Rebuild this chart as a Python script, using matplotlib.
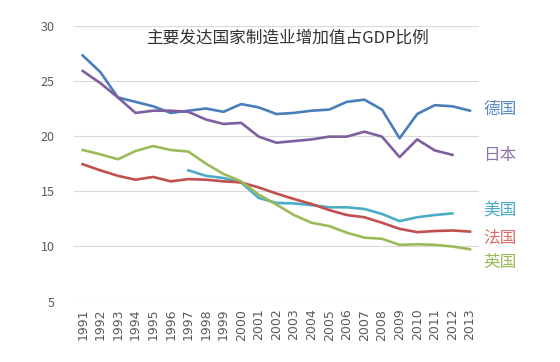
import matplotlib.pyplot as plt

plt.rcParams['font.family'] = ['Noto Sans CJK SC', 'DejaVu Sans']

years = [str(y) for y in range(1991, 2014)]

germany = [27.3, 25.8, 23.5, 23.1, 22.7, 22.1, 22.3, 22.5, 22.2, 22.9, 22.6, 22.0,
           22.1, 22.3, 22.4, 23.1, 23.3, 22.4, 19.8, 22.0, 22.8, 22.7, 22.3]
japan = [25.9, 24.8, 23.5, 22.1, 22.3, 22.3, 22.2, 21.5, 21.1, 21.2, 19.95, 19.4,
         19.55, 19.7, 19.95, 19.95, 20.4, 19.95, 18.1, 19.7, 18.7, 18.3]
usa = [16.9, 16.4, 16.2, 15.8, 14.4, 13.95, 13.9, 13.75, 13.55, 13.55,
       13.4, 12.95, 12.3, 12.65, 12.85, 13.0]
france = [17.45, 16.9, 16.4, 16.05, 16.3, 15.9, 16.1, 16.05, 15.9, 15.8, 15.35, 14.8,
          14.3, 13.85, 13.3, 12.85, 12.65, 12.15, 11.6, 11.3, 11.4, 11.45, 11.35]
uk = [18.74, 18.35, 17.9, 18.65, 19.1, 18.74, 18.6, 17.5, 16.57, 15.9, 14.7, 13.8,
      12.85, 12.15, 11.85, 11.25, 10.8, 10.7, 10.15, 10.2, 10.15, 10.0, 9.75]

fig = plt.figure(figsize=(5.6, 3.62), dpi=100)
ax = fig.add_axes([0.132, 0.1666, 0.723, 0.7624])

x = list(range(len(years)))
ax.plot(x[:len(germany)], germany, color='#4a7ebb', lw=1.9)
ax.plot(x[:len(japan)], japan, color='#7d5fa0', lw=1.9)
ax.plot(x[6:6 + len(usa)], usa, color='#4bacc6', lw=1.9)
ax.plot(x, france, color='#c0504d', lw=1.9)
ax.plot(x, uk, color='#9bbb59', lw=1.9)

ax.set_xlim(-0.5, len(years) - 0.5)
ax.set_ylim(5, 30)
ax.set_yticks([5, 10, 15, 20, 25, 30])
ax.set_xticks(x)
ax.set_xticklabels(years, rotation=90, fontsize=9, color='#595959', family='DejaVu Sans')
ax.tick_params(axis='y', labelsize=9, labelcolor='#595959', length=0, pad=14)
ax.tick_params(axis='x', length=0, pad=5)
ax.grid(axis='y', color='#d9d9d9', lw=0.8)
ax.set_axisbelow(True)
for s in ax.spines.values():
    s.set_visible(False)

fig.text(0.514, 0.896, '主要发达国家制造业增加值占GDP比例', ha='center', va='center',
         fontsize=12, color='#333333')

labels = [('德国', 109, '#5a8ac6'), ('日本', 155, '#8a70ad'), ('美国', 210, '#4bacc6'),
          ('法国', 238, '#d9706c'), ('英国', 263, '#9bbb59')]
for txt, ypx, c in labels:
    fig.text(483 / 560, 1 - ypx / 362, txt, ha='left', va='center', fontsize=12, color=c)

fig.savefig('out.png', dpi=100)
